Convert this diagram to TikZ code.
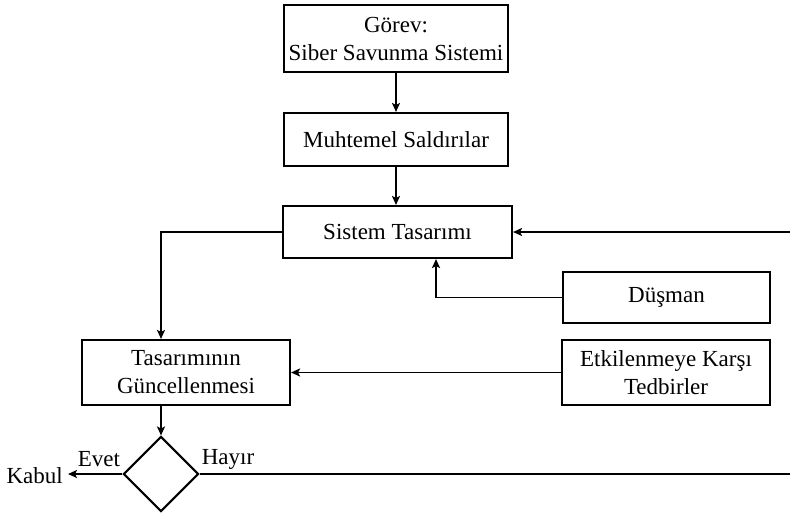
\documentclass[tikz,border=0pt]{standalone}
\usepackage{fontspec}
\setmainfont{Liberation Serif}
\usetikzlibrary{shapes.geometric,arrows.meta}
\begin{document}
\begin{tikzpicture}[x=1pt,y=-1pt,
  font=\fontsize{23}{28}\selectfont,
  box/.style={draw,line width=2.1pt,align=center,inner sep=0pt},
  conn/.style={line width=1.8pt},
  arr/.style={conn,-{Stealth[length=9pt,width=8pt,inset=2pt]}},
  lbl/.style={inner sep=0pt}]
\useasboundingbox (0,0) rectangle (790,514);

% main chain
\node[box,minimum width=224,minimum height=67] (gorev) at (396,38.5) {Görev:\\Siber Savunma Sistemi};
\node[box,minimum width=224,minimum height=53] (saldiri) at (396,139.5) {Muhtemel Saldırılar};
\node[box,minimum width=229,minimum height=52] (tasarim) at (397.5,232) {Sistem Tasarımı};
\node[box,minimum width=207,minimum height=51] (dusman) at (666.5,297.5) {Düşman};
\node[box,minimum width=208,minimum height=65] (guncel) at (186,372.5) {Tasarımının\\Güncellenmesi};
\node[box,minimum width=208,minimum height=65] (tedbir) at (666,372.5) {Etkilenmeye Karşı\\Tedbirler};

% decision
\node[draw,line width=2.1pt,diamond,minimum width=75,minimum height=75,inner sep=0pt] (karar) at (161,474) {};
\node[lbl,anchor=east] (kabul) at (63,476) {Kabul};
\node[lbl] (evet) at (99,459) {Evet};
\node[lbl] (hayir) at (228,459) {Hayır};

% free ends at the right margin
\coordinate (geri) at (790,232);
\coordinate (hayirson) at (790,474);

% connectors
\draw[arr] (gorev) -- (saldiri);
\draw[arr] (saldiri.south) -- (saldiri.south |- tasarim.north);
\draw[arr] (geri) -- (tasarim.east);
\draw[arr] (dusman.west) -| ([xshift=38.5pt]tasarim.south);
\draw[arr] (tasarim.west) -| (karar.north |- guncel.north);
\draw[arr] (tedbir.west) -- (guncel.east);
\draw[arr] (karar.north |- guncel.south) -- (karar.north);
\draw[arr] (karar.west) -- ([xshift=5pt]kabul.east |- karar.west);
\draw[conn] (karar.east) -- (hayirson);
\end{tikzpicture}
\end{document}
